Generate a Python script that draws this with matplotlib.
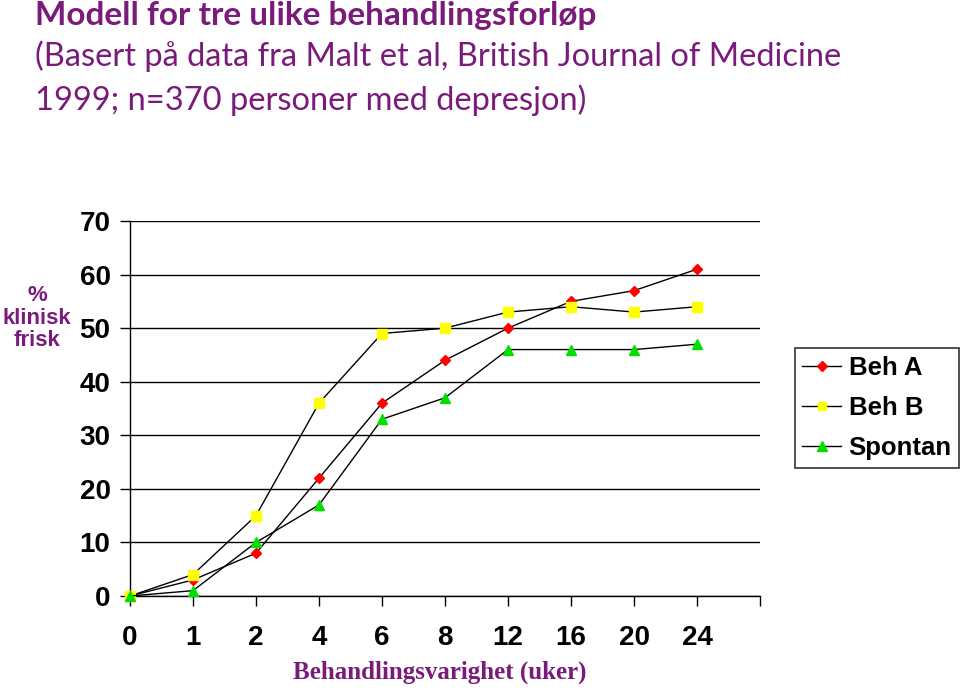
import matplotlib
matplotlib.use("Agg")
import matplotlib.pyplot as plt

weeks = ["0", "1", "2", "4", "6", "8", "12", "16", "20", "24"]
beh_a = [0, 3, 8, 22, 36, 44, 50, 55, 57, 61]
beh_b = [0, 4, 15, 36, 49, 50, 53, 54, 53, 54]
spontan = [0, 1, 10, 17, 33, 37, 46, 46, 46, 47]
y_ticks = [0, 10, 20, 30, 40, 50, 60, 70]

purple = "#7a1a7a"
fig = plt.figure(figsize=(9.6, 6.89), dpi=100)
ax = fig.add_axes([130/960, 1-596/689, 630/960, 375/689])

x = list(range(len(weeks)))
ax.plot(x, beh_a, color="black", lw=1, marker="D", ms=5.5, mfc="#ff0000", mec="#ff0000", label="Beh A", zorder=3)
ax.plot(x, beh_b, color="black", lw=1, marker="s", ms=6.5, mfc="#ffff00", mec="#ffff00", label="Beh B", zorder=3)
ax.plot(x, spontan, color="black", lw=1, marker="^", ms=7.5, mfc="#00e000", mec="#00e000", label="Spontan", zorder=3)

ax.set_xlim(0, len(weeks))
ax.set_ylim(0, 70)
ax.set_xticks(list(range(len(weeks)+1)))
ax.set_xticklabels(weeks + [""])
ax.set_yticks(y_ticks)
ax.yaxis.grid(True, color="black", lw=1)
ax.set_axisbelow(True)
for s in ["top", "right"]:
    ax.spines[s].set_visible(False)
ax.spines["left"].set_linewidth(1)
ax.spines["bottom"].set_linewidth(1)
ax.tick_params(axis="y", length=7, width=1, pad=7, labelsize=20)
ax.tick_params(axis="x", length=7, width=1, pad=14, labelsize=20)
for lab in ax.get_xticklabels() + ax.get_yticklabels():
    lab.set_fontweight("bold")
    lab.set_family("Liberation Sans")
for l in ax.lines:
    l.set_clip_on(False)

fig.text(37/960, 1-318/689, "%\nklinisk\nfrisk", color=purple, fontsize=16, fontweight="bold",
         family="Liberation Sans", ha="center", va="center", linespacing=1.12)
fig.text(440/960, 1-672/689, "Behandlingsvarighet (uker)", color=purple, fontsize=18, fontweight="bold",
         family="Liberation Serif", ha="center", va="center")

fig.text(35/960, 1-16/689, "Modell for tre ulike behandlingsforløp", color=purple, fontsize=24,
         fontweight="bold", family="Lato", ha="left", va="center")
fig.text(35/960, 1-56/689, "(Basert på data fra Malt et al, British Journal of Medicine", color=purple,
         fontsize=23.5, family="Lato", ha="left", va="center")
fig.text(35/960, 1-100/689, "1999; n=370 personer med depresjon)", color=purple,
         fontsize=23.5, family="Lato", ha="left", va="center")

leg = fig.legend(handles=ax.lines, loc="center", bbox_to_anchor=(877/960, 1-408/689),
                 prop={"family": "Liberation Sans", "weight": "bold", "size": 18.5},
                 frameon=True, fancybox=False, edgecolor="#333333", framealpha=1,
                 handlelength=1.5, handletextpad=0.3, borderpad=0.3, labelspacing=0.62,
                 borderaxespad=0, markerscale=0.9)
leg.get_frame().set_linewidth(1.2)

fig.savefig("out.png", dpi=100)
